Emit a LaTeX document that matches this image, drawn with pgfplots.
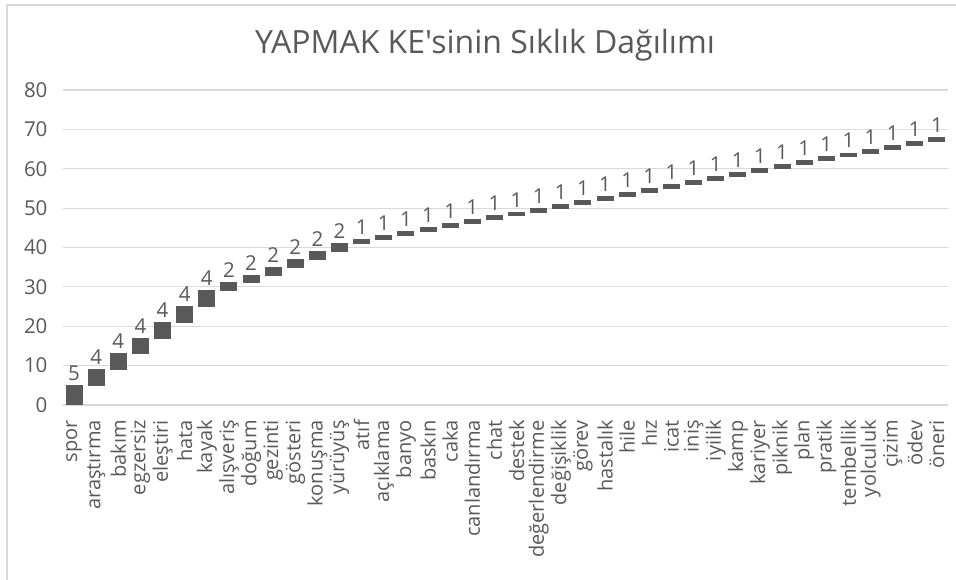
\documentclass[border=0pt]{standalone}
\usepackage{pgfplots}
\pgfplotsset{compat=1.18}
\usepackage{pgfplotstable}
\usepackage{fontspec}
\setmainfont{Open Sans}[Ligatures=TeXOff]
\definecolor{txt}{HTML}{595959}
\definecolor{barc}{HTML}{595959}
\definecolor{grd}{HTML}{D9D9D9}

% x, start of the bar, frequency
\pgfplotstableread{
x base v z
0 0 5 0
1 5 4 0
2 9 4 0
3 13 4 0
4 17 4 0
5 21 4 0
6 25 4 0
7 29 2 0
8 31 2 0
9 33 2 0
10 35 2 0
11 37 2 0
12 39 2 0
13 41 1 0
14 42 1 0
15 43 1 0
16 44 1 0
17 45 1 0
18 46 1 0
19 47 1 0
20 48 1 0
21 49 1 0
22 50 1 0
23 51 1 0
24 52 1 0
25 53 1 0
26 54 1 0
27 55 1 0
28 56 1 0
29 57 1 0
30 58 1 0
31 59 1 0
32 60 1 0
33 61 1 0
34 62 1 0
35 63 1 0
36 64 1 0
37 65 1 0
38 66 1 0
39 67 1 0
}\freq

\begin{document}
\begin{tikzpicture}[x=1pt,y=1pt]
\useasboundingbox (0,0) rectangle (956,580);
\draw[grd,line width=1.5pt] (7,0) -- (7,575) -- (956,575);
\node[txt,font=\fontsize{32}{36}\selectfont] at (485,535) {YAPMAK KE'sinin Sıklık Dağılımı};
\begin{axis}[
  at={(63pt,175pt)}, anchor=south west,
  scale only axis, width=885pt, height=315pt,
  ybar stacked, bar width=16pt,
  stacked ignores zero=false,
  xmin=-0.5, xmax=39.5, ymin=0, ymax=80,
  ytick={0,10,...,80},
  xtick=data,
  xticklabels={spor,araştırma,bakım,egzersiz,eleştiri,hata,kayak,alışveriş,doğum,gezinti,gösteri,konuşma,yürüyüş,atıf,açıklama,banyo,baskın,caka,canlandırma,chat,destek,değerlendirme,değişiklik,görev,hastalık,hile,hız,icat,iniş,iyilik,kamp,kariyer,piknik,plan,pratik,tembellik,yolculuk,çizim,ödev,öneri},
  x tick label style={rotate=90, anchor=east, font=\fontsize{20}{21}\selectfont, text=txt, inner sep=1pt},
  y tick label style={font=\fontsize{20.5}{21}\selectfont, text=txt},
  /pgf/number format/assume math mode=true,
  major tick length=0pt,
  xticklabel shift=14pt, yticklabel shift=12pt,
  axis x line*=bottom, axis y line*=left,
  x axis line style={grd,line width=1.2pt,-},
  y axis line style={draw=none},
  ymajorgrids, grid style={grd,line width=1.2pt},
  clip=false,
]
\addplot[draw=none, fill=none, forget plot] table[x=x, y=base] {\freq};
\addplot[draw=barc, line width=1pt, fill=barc] table[x=x, y=v] {\freq};
\addplot[draw=none, fill=none,
  nodes near coords, point meta=explicit,
  every node near coord/.append style={font=\fontsize{20.5}{21}\selectfont, text=txt, anchor=south, yshift=1.5pt}]
  table[x=x, y=z, meta=v] {\freq};
\end{axis}
\end{tikzpicture}
\end{document}
